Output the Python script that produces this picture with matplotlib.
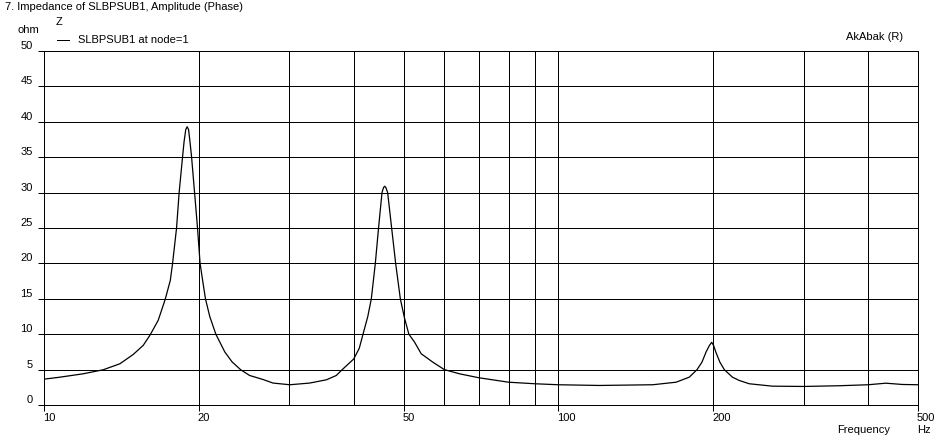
import matplotlib
matplotlib.use("Agg")
import matplotlib.pyplot as plt
import matplotlib.transforms as mtransforms

plt.rcParams['font.family'] = ['Liberation Sans', 'DejaVu Sans']

# Data
freq_hz = [10.0, 10.74, 11.92, 13.04, 14.05, 14.91, 15.59, 16.06, 16.67, 17.2,
           17.6, 17.78, 18.10, 18.31, 18.59, 18.72, 18.86, 18.98, 19.1, 19.22,
           19.36, 19.62, 19.88, 20.11, 20.35, 20.6, 21.0, 21.58, 22.46, 23.2,
           24.1, 25.1, 26.66, 27.87, 30.05, 32.85, 35.4, 37.0, 38.0, 40.0,
           41.0, 41.7, 42.6, 43.28, 44.06, 44.7, 45.4, 45.7, 45.95, 46.2,
           46.56, 47.4, 48.26, 49.28, 50.2, 51.2, 52.5, 54.1, 57.0, 60.0,
           64.2, 70.0, 80.0, 90.0, 100.0, 120.0, 152.5, 169.3, 179.6, 185.9,
           190.1, 193.6, 196.5, 198.6, 200.3, 202.3, 206.0, 210.1, 217.9, 224.6,
           234.9, 260.6, 300.0, 351.3, 400.0, 432.9, 466.3, 500.0]
impedance_ohm = [3.65, 3.93, 4.41, 4.98, 5.83, 7.14, 8.42, 9.83, 11.95, 14.9,
                 17.6, 20.0, 25.0, 30.0, 35.0, 37.2, 38.9, 39.3, 38.9, 37.2,
                 35.0, 30.0, 25.0, 20.0, 17.5, 15.0, 12.5, 10.0, 7.5, 6.1,
                 5.0, 4.17, 3.6, 3.1, 2.86, 3.1, 3.56, 4.17, 5.0, 6.5,
                 8.0, 10.0, 12.5, 15.0, 20.0, 25.0, 30.0, 30.7, 30.9, 30.7,
                 30.0, 25.0, 20.0, 15.0, 12.3, 10.0, 8.9, 7.24, 6.05, 5.0,
                 4.41, 3.85, 3.22, 3.0, 2.86, 2.76, 2.86, 3.22, 3.93, 4.98,
                 6.05, 7.47, 8.4, 8.85, 8.4, 7.47, 6.05, 5.0, 3.93, 3.47,
                 3.0, 2.66, 2.62, 2.72, 2.86, 3.08, 2.9, 2.86]

x_grid = [10, 20, 30, 40, 50, 60, 70, 80, 90, 100, 200, 300, 400, 500]
x_tick_labels = ['10', '20', '50', '100', '200', '500']
x_tick_vals = [10, 20, 50, 100, 200, 500]
y_ticks = [0, 5, 10, 15, 20, 25, 30, 35, 40, 45, 50]

W, H = 943, 442
fig = plt.figure(figsize=(W / 100, H / 100), dpi=100)
fig.patch.set_facecolor('white')
ax = fig.add_axes([44 / W, (H - 405) / H, 874 / W, 354 / H])
ax.set_xscale('log')
ax.set_xlim(10, 500)
ax.set_ylim(0, 50)

lw = 0.72
for xv in x_grid:
    ax.axvline(xv, color='black', lw=lw, zorder=1, clip_on=False, antialiased=False)
for yv in y_ticks:
    ax.axhline(yv, color='black', lw=lw, zorder=1, clip_on=False, antialiased=False)

ax.plot(freq_hz, impedance_ohm, color='black', lw=0.9, zorder=3)

for s in ax.spines.values():
    s.set_visible(False)

ax.minorticks_off()
ax.set_xticks(x_tick_vals)
ax.set_xticklabels(x_tick_labels)
ax.set_yticks(y_ticks)
ax.set_yticklabels([str(v) for v in y_ticks])
ax.tick_params(axis='both', direction='out', length=4, width=lw, color='black',
               labelsize=8, pad=2)
for lab in ax.get_xticklabels():
    lab.set_horizontalalignment('left')
    lab.set_transform(lab.get_transform() + mtransforms.ScaledTranslation(-1 / 100, 0, fig.dpi_scale_trans))
for lab in ax.get_yticklabels():
    lab.set_transform(lab.get_transform() + mtransforms.ScaledTranslation(-3 / 100, 6 / 100, fig.dpi_scale_trans))

fs = 8
fig.text(5 / W, 1 - 7 / H, '7. Impedance of SLBPSUB1, Amplitude (Phase)', fontsize=fs, va='center', ha='left')
fig.text(18 / W, 1 - 30 / H, 'ohm', fontsize=fs, va='center', ha='left')
fig.text(56 / W, 1 - 22 / H, 'Z', fontsize=fs, va='center', ha='left')
fig.add_artist(plt.Line2D([57 / W, 69 / W], [1 - 40 / H, 1 - 40 / H], color='black', lw=lw, antialiased=False))
fig.text(78 / W, 1 - 40 / H, 'SLBPSUB1 at node=1', fontsize=fs, va='center', ha='left')
fig.text(903 / W, 1 - 37 / H, 'AkAbak (R)', fontsize=fs, va='center', ha='right')
fig.text(890 / W, 1 - 430 / H, 'Frequency', fontsize=fs, va='center', ha='right')
fig.text(917 / W, 1 - 430 / H, 'Hz', fontsize=fs, va='center', ha='left')

fig.savefig('out.png', dpi=100, facecolor='white')
